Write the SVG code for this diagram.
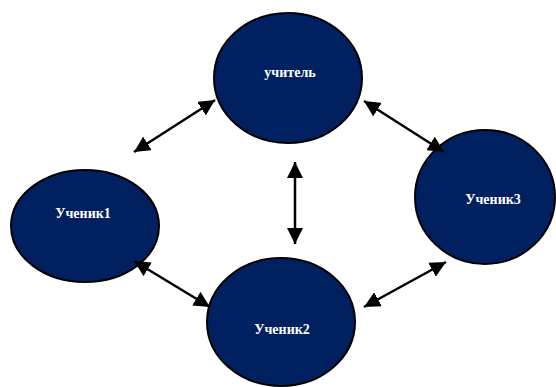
<svg xmlns="http://www.w3.org/2000/svg" width="556" height="387" viewBox="0 0 556 387">
<style>
.n{fill:#002060;stroke:#000;stroke-width:2}
.t{font-family:"Liberation Serif","Times New Roman",serif;font-weight:bold;font-size:14px;fill:#fff;text-anchor:middle}
.c{stroke:#000;stroke-width:2.5;fill:none;marker-start:url(#ah);marker-end:url(#ah)}
</style>
<defs>
<marker id="ah" markerUnits="userSpaceOnUse" markerWidth="18" markerHeight="16" refX="16" refY="8" orient="auto-start-reverse" viewBox="0 0 18 16">
<path d="M0,0 L16,8 L0,16 Z" fill="#000"/>
</marker>
</defs>
<rect width="556" height="387" fill="#fff"/>
<g id="teacher"><ellipse class="n" cx="288" cy="78" rx="74" ry="65"/><text class="t" x="290" y="77">учитель</text></g>
<g id="student1"><ellipse class="n" cx="85" cy="226" rx="74" ry="56"/><text class="t" x="83" y="218">Ученик1</text></g>
<g id="student2"><ellipse class="n" cx="281" cy="322" rx="74" ry="64"/><text class="t" x="282" y="334">Ученик2</text></g>
<g id="student3"><ellipse class="n" cx="485" cy="197" rx="70" ry="67"/><text class="t" x="493" y="204">Ученик3</text></g>
<g id="connectors">
<line class="c" x1="134" y1="152" x2="215" y2="100"/>
<line class="c" x1="364" y1="101" x2="444" y2="152"/>
<line class="c" x1="295" y1="162" x2="295" y2="244"/>
<line class="c" x1="134" y1="261" x2="210" y2="307"/>
<line class="c" x1="364" y1="307" x2="446" y2="262"/>
</g>
</svg>
